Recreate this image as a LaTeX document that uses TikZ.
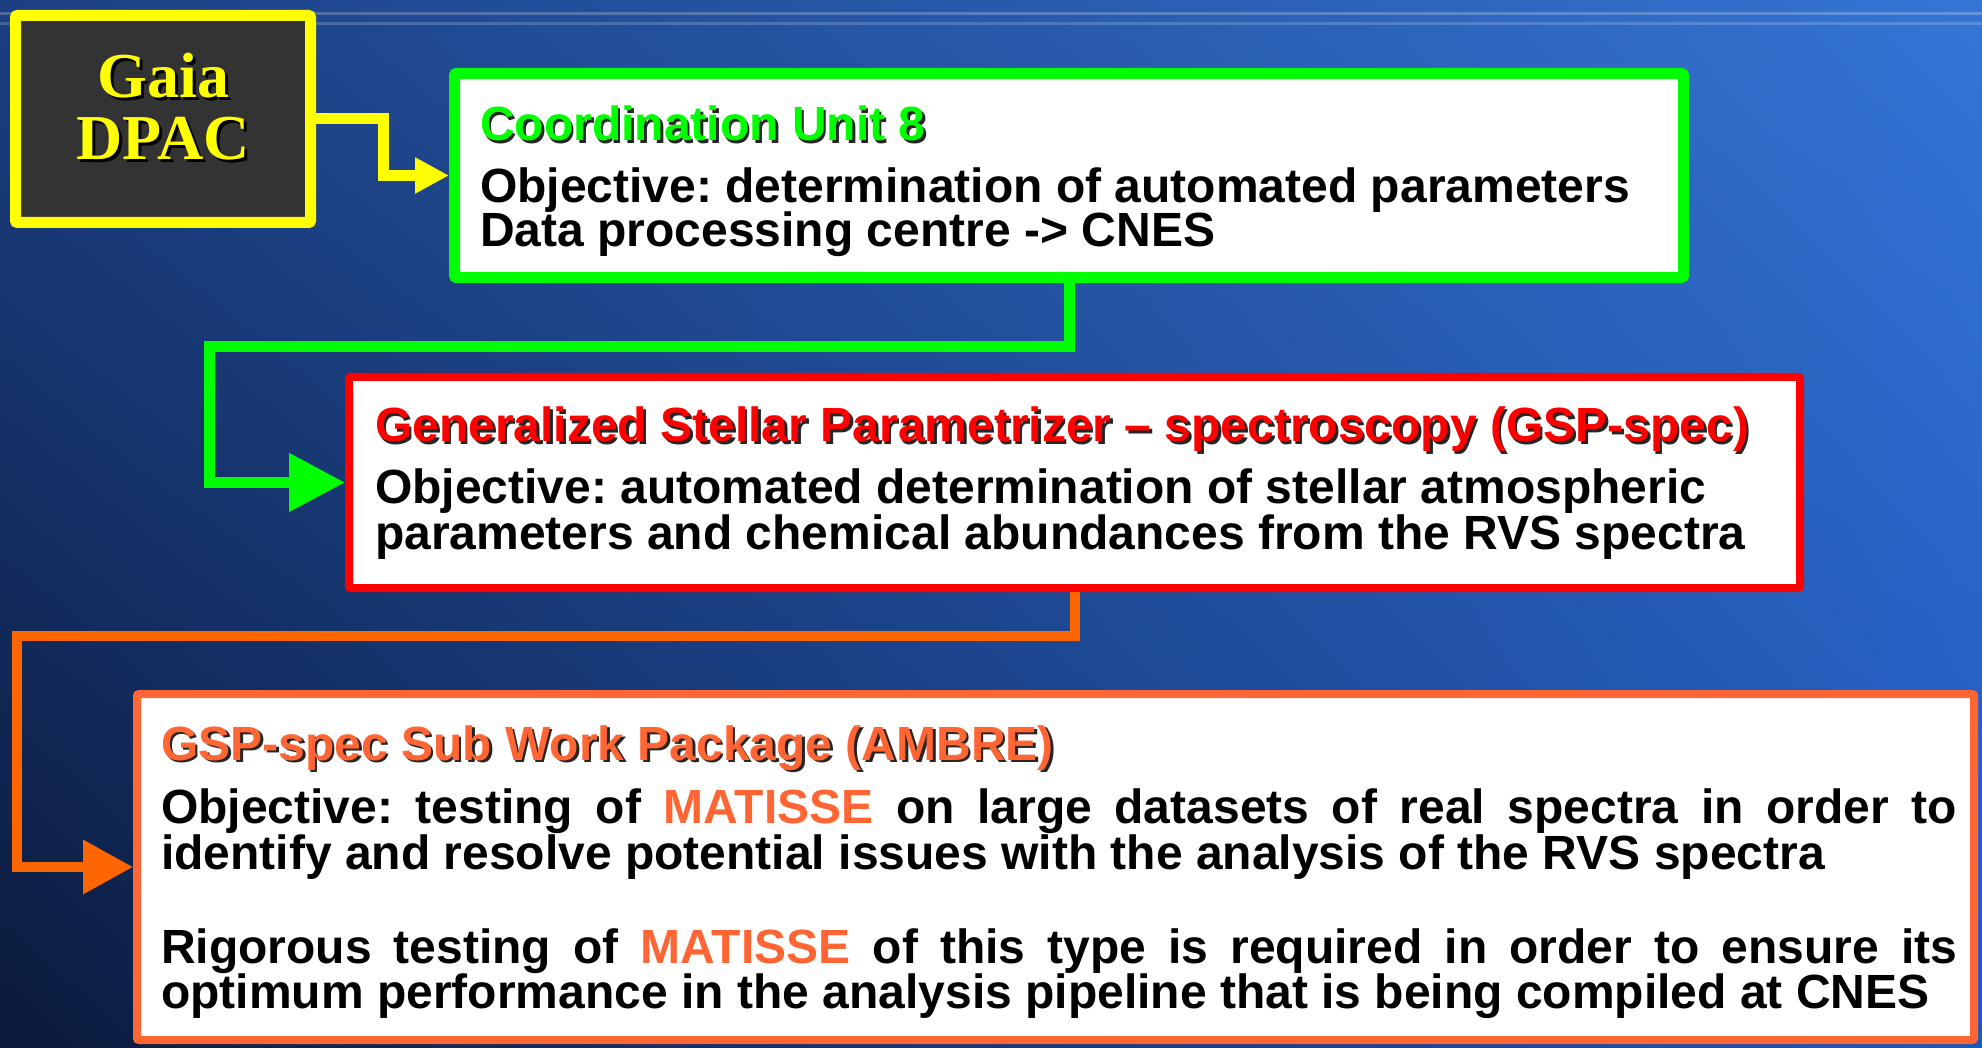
\documentclass[tikz,border=0pt]{standalone}
\usepackage{fontspec}
\setmainfont{Liberation Sans}
\newfontfamily\gaiafont{Liberation Serif}
\usetikzlibrary{arrows.meta,shadings}
\definecolor{bgUL}{HTML}{1B3F82}
\definecolor{bgUR}{HTML}{3575D5}
\definecolor{bgLL}{HTML}{0B1A3C}
\definecolor{bgLR}{HTML}{1F58BC}
\definecolor{cuyellow}{HTML}{FFFF00}
\definecolor{cugreen}{HTML}{00FF00}
\definecolor{cured}{HTML}{FF0000}
\definecolor{cuorange}{HTML}{FF6633}
\definecolor{cuorangeline}{HTML}{FF6600}
\definecolor{darkfill}{HTML}{333333}
\frenchspacing
\begin{document}
\begin{tikzpicture}[x=1pt,y=-1pt,
  box/.style={draw, fill=white, inner sep=0pt, rounded corners=2pt},
  txt/.style={anchor=base west, inner sep=0pt, font=\fontsize{48}{46}\selectfont\bfseries\frenchspacing},
  shadowtxt/.style={txt, text=black!85},
  gaiatxt/.style={anchor=base, inner sep=0pt, font=\gaiafont\fontsize{64}{62}\selectfont\bfseries},
  conn/.style={line width=11pt, line join=miter}
]
\useasboundingbox (0,0) rectangle (1982,1048);
% background
\shade[upper left=bgUL, upper right=bgUR, lower left=bgLL, lower right=bgLR] (0,0) rectangle (1982,1048);
\draw[white, opacity=0.22, line width=3pt] (0,13.5) -- (1982,13.5);
\draw[white, opacity=0.18, line width=2.5pt] (0,23.5) -- (1982,23.5);

% boxes
\node[box, draw=cuyellow, fill=darkfill, line width=11pt, outer sep=5.5pt,
      minimum width=295pt, minimum height=207pt] (yb) at (163,119) {};
\node[box, draw=cugreen, line width=11pt, outer sep=5.5pt,
      minimum width=1229pt, minimum height=204pt] (gb) at (1069,175.5) {};
\node[box, draw=cured, line width=8pt, outer sep=4pt,
      minimum width=1451pt, minimum height=211pt] (rb) at (1074.5,482.5) {};
\node[box, draw=cuorange, line width=8pt, outer sep=4pt,
      minimum width=1837pt, minimum height=346pt] (ob) at (1055.5,867) {};

% Gaia DPAC
\node[gaiatxt, text=black] (gaias) at (166.5,101) {Gaia};
\node[gaiatxt, text=cuyellow] (gaia) at (163.5,98) {Gaia};
\node[gaiatxt, text=black] (dpacs) at (166,163) {DPAC};
\node[gaiatxt, text=cuyellow] (dpac) at (163,160) {DPAC};

% green box text
\node[shadowtxt] (gts) at (482.5,143.5) {Coordination Unit 8};
\node[txt, text=cugreen] (gt) at (480,141) {Coordination Unit 8};
\node[txt] (g1) at (480,203) {Objective: determination of automated parameters};
\node[txt] (g2) at (480,247) {Data processing centre -> CNES};

% red box text
\node[shadowtxt] (rts) at (377.5,444.5) {Generalized Stellar Parametrizer – spectroscopy (GSP-spec)};
\node[txt, text=cured] (rt) at (375,442) {Generalized Stellar Parametrizer – spectroscopy (GSP-spec)};
\node[txt] (r1) at (375,503) {Objective: automated determination of stellar atmospheric};
\node[txt] (r2) at (375,549) {parameters and chemical abundances from the RVS spectra};

% orange box text
\node[shadowtxt] (ots) at (163.5,762.5) {GSP-spec Sub Work Package (AMBRE)};
\node[txt, text=cuorange] (ot) at (161,760) {GSP-spec Sub Work Package (AMBRE)};
\node[txt] (o1) at (161,823) {\makebox[1796pt][s]{Objective: testing of \textcolor{cuorange}{MATISSE} on large datasets of real spectra in order to}};
\node[txt] (o2) at (161,869) {identify and resolve potential issues with the analysis of the RVS spectra};
\node[txt] (o3) at (161,963) {\makebox[1796pt][s]{Rigorous testing of \textcolor{cuorange}{MATISSE} of this type is required in order to ensure its}};
\node[txt] (o4) at (161,1008) {optimum performance in the analysis pipeline that is being compiled at CNES};

% connectors
\draw[conn, cuyellow, -{Triangle[length=34pt,width=34pt]}]
  (yb.east) -- ++(67,0) |- (gb.west);
\draw[conn, cugreen, -{Triangle[length=56pt,width=56pt]}]
  (gb.south) -- ++(0,64) -- ++(-860,0) |- (rb.west);
\draw[conn, cuorangeline, line width=10pt, -{Triangle[length=50pt,width=52pt]}]
  (rb.south) -- ++(0,44) -- ++(-1057.5,0) |- (ob.west);
\end{tikzpicture}
\end{document}
